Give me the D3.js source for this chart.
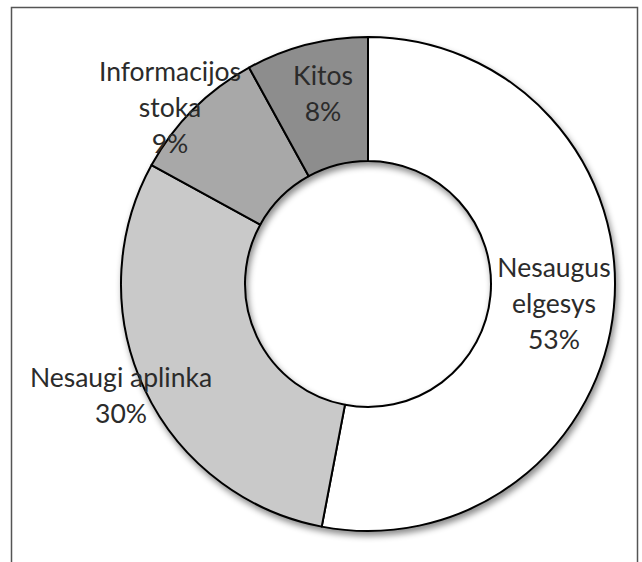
<!DOCTYPE html>
<html>
<head>
<meta charset="utf-8">
<script src="https://cdn.jsdelivr.net/npm/d3@7"></script>
<style>
  body { margin: 0; background: white; }
  svg { display: block; }
</style>
</head>
<body>
<svg width="642" height="562"></svg>
<script>
(function () {

  // data
  var categories = ['Nesaugus elgesys', 'Nesaugi aplinka', 'Informacijos stoka', 'Kitos']
  var values = [53, 30, 9, 8]
  // how each label is broken into lines
  var labelLines = [
    ['Nesaugus', 'elgesys'],
    ['Nesaugi aplinka'],
    ['Informacijos', 'stoka'],
    ['Kitos']
  ]

  var colors = ['#ffffff', '#c9c9c9', '#a8a8a8', '#8d8d8d']

  var cx = 368, cy = 284
  var outerR = 247, innerR = 123

  var svg = d3.select('svg')

  // the frame round the chart (bottom edge is cut off)
  svg.append('rect')
    .attr('x', 11.5).attr('y', 7.5)
    .attr('width', 626).attr('height', 600)
    .attr('fill', 'none')
    .attr('stroke', '#555')
    .attr('stroke-width', 1.5)

  var defs = svg.append('defs')
  var filter = defs.append('filter')
    .attr('id', 'shadow')
    .attr('x', '-20%').attr('y', '-20%')
    .attr('width', '140%').attr('height', '140%')
  filter.append('feDropShadow')
    .attr('dx', 2).attr('dy', 4)
    .attr('stdDeviation', 3)
    .attr('flood-color', '#000')
    .attr('flood-opacity', 0.45)

  var data = categories.map(function (c, i) {
    return { name: c, value: values[i], lines: labelLines[i], color: colors[i] }
  })

  var pie = d3.pie().sort(null).value(d => d.value)
  var arc = d3.arc().innerRadius(innerR).outerRadius(outerR)

  var g = svg.append('g')
    .attr('transform', 'translate(' + cx + ',' + cy + ')')

  g.append('g')
    .attr('filter', 'url(#shadow)')
    .selectAll('path')
    .data(pie(data))
    .enter().append('path')
    .attr('d', arc)
    .attr('fill', d => d.data.color)
    .attr('stroke', '#000')
    .attr('stroke-width', 2)
    .attr('stroke-linejoin', 'round')

  // label centres (relative to the donut centre), placed like the original
  var labelPos = [
    [186, -16],
    [-247, 94],
    [-198, -212],
    [-45, -208]
  ]
  var lineH = 36

  var labels = g.selectAll('text.label')
    .data(pie(data))
    .enter().append('text')
    .attr('class', 'label')
    .attr('text-anchor', 'middle')
    .attr('font-family', 'Lato, "Open Sans", sans-serif')
    .attr('font-size', 26.5)
    .attr('fill', '#2b2b2b')

  labels.each(function (d, i) {
    var lines = d.data.lines.concat([d.data.value + '%'])
    var t = d3.select(this)
    lines.forEach(function (line, j) {
      t.append('tspan')
        .attr('x', labelPos[i][0])
        .attr('y', labelPos[i][1] + j * lineH)
        .attr('dy', '0.35em')
        .text(line)
    })
  })

})()
</script>
</body>
</html>
